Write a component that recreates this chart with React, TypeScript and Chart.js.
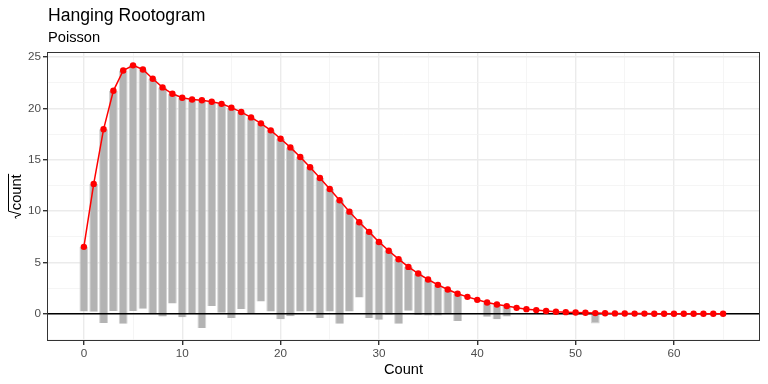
import React, { useEffect, useRef } from 'react';
import { Chart, registerables } from 'chart.js';

Chart.register(...registerables);

const FONT = '"Liberation Sans", Arial, Helvetica, sans-serif';

const titleText = 'Hanging Rootogram';
const subtitleText = 'Poisson';
const xTitleText = 'Count';
const yTitleText = 'count'; // shown under a square-root sign

// expected sqrt(frequency) for each count 0..65 (red points)
const expectedSqrt = [
  6.52, 12.65, 17.97, 21.72, 23.7, 24.2, 23.8, 22.9, 22.05, 21.43,
  21.04, 20.88, 20.8, 20.65, 20.45, 20.08, 19.65, 19.13, 18.55, 17.87,
  17.05, 16.21, 15.27, 14.27, 13.23, 12.16, 11.06, 9.95, 8.92, 7.98,
  7.0, 6.14, 5.32, 4.57, 3.92, 3.34, 2.82, 2.37, 1.95, 1.65,
  1.36, 1.1, 0.91, 0.75, 0.58, 0.45, 0.36, 0.27, 0.2, 0.16,
  0.13, 0.1, 0.07, 0.05, 0.04, 0.03, 0.02, 0.02, 0.01, 0.01,
  0.01, 0.0, 0.0, 0.0, 0.0, 0.0,
];

// bottom of each hanging bar (expected - sqrt(observed)); null = no observations
const hangingBottom: (number | null)[] = [
  0.23, 0.2, -0.9, 0.26, -0.97, 0.26, 0.5, -0.05, -0.26, 1.0,
  -0.33, 0.08, -1.38, 0.75, 0.1, -0.42, 0.47, 0.08, 1.2, 0.23,
  -0.52, -0.24, 0.23, 0.23, -0.42, 0.23, -0.98, 0.23, 1.59, -0.42,
  -0.58, -0.1, -0.97, 0.3, -0.12, -0.16, -0.16, -0.05, -0.7, null,
  null, -0.3, -0.52, -0.26, null, null, null, null, null, null,
  null, null, -0.95, null, null, null, null, null, null, null,
  null, null, null, null, null, null,
];

const counts = expectedSqrt.map((_, i) => i);

const xMajorTicks = [0, 10, 20, 30, 40, 50, 60];
const xMinorTicks = [5, 15, 25, 35, 45, 55, 65];
const yMajorTicks = [0, 5, 10, 15, 20, 25];
const yMinorTicks = [-2.5, 2.5, 7.5, 12.5, 17.5, 22.5];
const xLimits = [-3.75, 68.75];
const yLimits = [-2.65, 25.5];

const decorPlugin = {
  id: 'decor',
  afterDatasetDraw(chart: any, args: any) {
    if (args.index !== 0) return;
    const { ctx, chartArea } = chart;
    const y = chart.scales.y.getPixelForValue(0);
    ctx.save();
    ctx.strokeStyle = '#000000';
    ctx.lineWidth = 1.5;
    ctx.beginPath();
    ctx.moveTo(chartArea.left, y);
    ctx.lineTo(chartArea.right, y);
    ctx.stroke();
    ctx.restore();
  },
  afterDraw(chart: any) {
    const { ctx, chartArea: a } = chart;
    ctx.save();
    // panel border
    ctx.strokeStyle = '#333333';
    ctx.lineWidth = 1;
    ctx.strokeRect(a.left + 0.5, a.top + 0.5, a.right - a.left - 1, a.bottom - a.top - 1);

    // titles
    ctx.fillStyle = '#000000';
    ctx.textAlign = 'left';
    ctx.textBaseline = 'alphabetic';
    ctx.font = `17.6px ${FONT}`;
    ctx.fillText(titleText, a.left + 1, 20.7);
    ctx.font = `14.67px ${FONT}`;
    ctx.fillText(subtitleText, a.left + 1, 41.6);

    // x title
    ctx.textAlign = 'center';
    ctx.fillText(xTitleText, (a.left + a.right) / 2, 374);

    // y title: sqrt(count)
    ctx.save();
    ctx.translate(20.5, (a.top + a.bottom) / 2);
    ctx.rotate(-Math.PI / 2);
    ctx.font = `14.67px ${FONT}`;
    const tw = ctx.measureText(yTitleText).width;
    const radW = 8.5;
    const W = radW + tw;
    const sx = -W / 2;
    ctx.strokeStyle = '#000000';
    ctx.lineWidth = 1;
    ctx.beginPath();
    ctx.moveTo(sx, -4.5);
    ctx.lineTo(sx + 1.8, -5.5);
    ctx.lineTo(sx + 4.2, 0.5);
    ctx.lineTo(sx + 7.5, -12);
    ctx.lineTo(sx + W + 0.5, -12);
    ctx.stroke();
    ctx.textAlign = 'left';
    ctx.fillText(yTitleText, sx + radW, 0);
    ctx.restore();

    ctx.restore();
  },
};

export default function App() {
  const canvasRef = useRef<HTMLCanvasElement | null>(null);

  useEffect(() => {
    document.body.style.margin = '0';
    const canvas = canvasRef.current;
    if (!canvas) return;

    const barData = counts.map((c, i) => ({
      x: c,
      y: hangingBottom[i] === null ? null : [hangingBottom[i], expectedSqrt[i]],
    }));
    const lineData = counts.map((c, i) => ({ x: c, y: expectedSqrt[i] }));

    const isMajorX = (v: number) => xMajorTicks.includes(v);
    const isMajorY = (v: number) => yMajorTicks.includes(v);

    const chart = new Chart(canvas, {
      type: 'bar',
      data: {
        datasets: [
          {
            type: 'bar',
            data: barData as any,
            backgroundColor: '#B3B3B3',
            borderColor: '#D3D3D3',
            borderWidth: 1,
            barPercentage: 0.9,
            categoryPercentage: 1,
            order: 2,
          } as any,
          {
            type: 'line',
            data: lineData as any,
            borderColor: '#FF0000',
            borderWidth: 1.5,
            pointRadius: 3.2,
            pointBackgroundColor: '#FF0000',
            pointBorderWidth: 0,
            tension: 0,
            order: 1,
          } as any,
        ],
      },
      options: {
        responsive: false,
        maintainAspectRatio: false,
        animation: false,
        layout: { padding: { left: 0, top: 52, right: 8, bottom: 0 } },
        plugins: {
          legend: { display: false },
          tooltip: { enabled: false },
          title: { display: false },
        },
        scales: {
          x: {
            type: 'linear',
            min: xLimits[0],
            max: xLimits[1],
            offset: false,
            border: { display: false },
            afterBuildTicks: (scale: any) => {
              scale.ticks = [...xMajorTicks, ...xMinorTicks]
                .sort((p, q) => p - q)
                .map((v) => ({ value: v }));
            },
            afterFit: (scale: any) => {
              scale.height = 43;
            },
            grid: {
              offset: false,
              color: (ctx: any) => (isMajorX(ctx.tick?.value) ? '#EBEBEB' : '#F2F2F2'),
              lineWidth: (ctx: any) => (isMajorX(ctx.tick?.value) ? 1.4 : 0.8),
              tickColor: (ctx: any) => (isMajorX(ctx.tick?.value) ? '#333333' : 'rgba(0,0,0,0)'),
              tickLength: 4,
              drawTicks: true,
            },
            ticks: {
              autoSkip: false,
              maxRotation: 0,
              padding: 2,
              color: '#4D4D4D',
              font: { family: FONT, size: 11.7 },
              callback: (v: any) => (isMajorX(Number(v)) ? String(v) : ''),
            },
          },
          y: {
            type: 'linear',
            min: yLimits[0],
            max: yLimits[1],
            border: { display: false },
            afterBuildTicks: (scale: any) => {
              scale.ticks = [...yMajorTicks, ...yMinorTicks]
                .sort((p, q) => p - q)
                .map((v) => ({ value: v }));
            },
            afterFit: (scale: any) => {
              scale.width = 47;
            },
            grid: {
              offset: false,
              color: (ctx: any) => (isMajorY(ctx.tick?.value) ? '#EBEBEB' : '#F2F2F2'),
              lineWidth: (ctx: any) => (isMajorY(ctx.tick?.value) ? 1.4 : 0.8),
              tickColor: (ctx: any) => (isMajorY(ctx.tick?.value) ? '#333333' : 'rgba(0,0,0,0)'),
              tickLength: 4,
              drawTicks: true,
            },
            ticks: {
              autoSkip: false,
              padding: 2,
              color: '#4D4D4D',
              font: { family: FONT, size: 11.7 },
              callback: (v: any) => (isMajorY(Number(v)) ? String(v) : ''),
            },
          },
        },
      } as any,
      plugins: [decorPlugin],
    });

    return () => chart.destroy();
  }, []);

  return (
    <div style={{ width: 768, height: 384 }}>
      <canvas ref={canvasRef} width={768} height={384} style={{ display: 'block' }} />
    </div>
  );
}
